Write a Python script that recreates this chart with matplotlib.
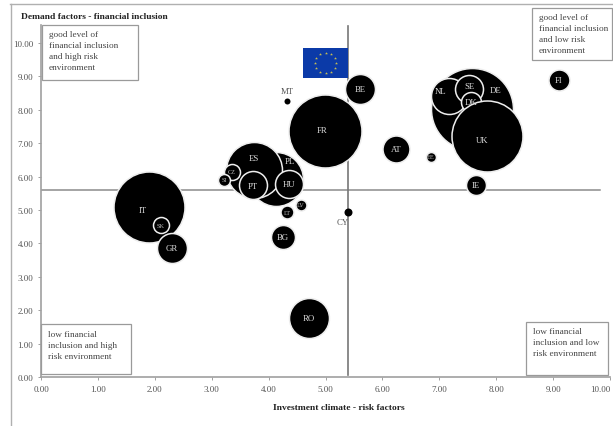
import numpy as np
import matplotlib
matplotlib.use("Agg")
import matplotlib.pyplot as plt
from matplotlib.patches import Rectangle
from matplotlib.lines import Line2D

plt.rcParams['font.family'] = ['Liberation Serif', 'DejaVu Serif']

# drawing order: back to front
countries = ['DE', 'NL', 'SE', 'DK', 'UK', 'IT', 'SK', 'GR', 'PL', 'ES', 'HU', 'PT', 'CZ', 'SI',
             'LT', 'LV', 'BG', 'RO', 'MT', 'CY', 'FR', 'BE', 'AT', 'EE', 'IE', 'FI']
risk = [7.57, 7.17, 7.52, 7.56, 7.83, 1.90, 2.11, 2.30, 4.13, 3.74, 4.36, 3.73, 3.36, 3.22,
        4.32, 4.57, 4.25, 4.71, 4.32, 5.40, 4.99, 5.61, 6.24, 6.85, 7.64, 9.10]
inclusion = [8.02, 8.41, 8.62, 8.23, 7.22, 5.09, 4.55, 3.86, 5.93, 6.20, 5.78, 5.75, 6.14, 5.90,
             4.94, 5.15, 4.19, 1.77, 8.26, 4.94, 7.38, 8.62, 6.83, 6.59, 5.75, 8.89]
bubble = [1681, 324, 196, 100, 1260, 1260, 64, 225, 729, 784, 196, 196, 64, 36,
          42, 30, 144, 400, 9, 16, 1332, 225, 182, 25, 100, 110]
eu_x = 5.40
eu_y = 5.61
ticks = [0, 1, 2, 3, 4, 5, 6, 7, 8, 9, 10]
tick_labels = ['0.00', '1.00', '2.00', '3.00', '4.00', '5.00', '6.00', '7.00', '8.00', '9.00', '10.00']

W, H = 613, 427
fig = plt.figure(figsize=(W / 100, H / 100), dpi=100, facecolor='white')
ax = fig.add_axes([41 / W, (H - 378) / H, 569 / W, 352 / H])
ax.set_xlim(0, 10)
ax.set_ylim(0, 352 / 33.4)
for s in ['top', 'right']:
    ax.spines[s].set_visible(False)
for s in ['left', 'bottom']:
    ax.spines[s].set_color('#a0a0a0')
    ax.spines[s].set_linewidth(1.2)
ax.set_xticks(ticks, tick_labels)
ax.set_yticks(ticks, tick_labels)
ax.tick_params(length=2.5, width=0.7, color='#a0a0a0', labelsize=6.5, labelcolor='#555555', pad=3)
# keep the last x label fully inside the picture
ax.get_xticklabels()[-1].set_horizontalalignment('right')
ax.get_xticklabels()[-1].set_x(10.0)

ax.plot([0, 9.83], [eu_y, eu_y], color='#8c8c8c', lw=1.1, zorder=1)
ax.plot([eu_x, eu_x], [0.05, 10.5], color='#777777', lw=1.2, zorder=1)

# EU flag
ax.add_patch(Rectangle((4.60, 8.95), 0.80, 0.90, facecolor='#0b3aa8', edgecolor='none', zorder=2))
ang = np.arange(12) * np.pi / 6
ax.scatter(5.0 + 0.19 * np.sin(ang), 9.40 + 0.30 * np.cos(ang), marker='*', s=5, color='#c8bf55',
           linewidths=0, zorder=3)

k = (2 * 0.72) ** 2
for i, c in enumerate(countries):
    small = c in ('MT', 'CY')
    ax.scatter(risk[i], inclusion[i], s=bubble[i] * k, facecolor='black',
               edgecolor='black' if small else '#eeeeee',
               linewidths=0 if small else 1.1, zorder=5 + i * 0.01)

offsets = {'DE': (24, 19), 'NL': (-8, 5), 'SE': (1, 3), 'UK': (-4, -4), 'PL': (14, 18), 'ES': (0, 12),
           'IT': (-6, -3), 'FR': (-3, 1), 'MT': (0, 10), 'CY': (-6, -10), 'PT': (0, -1)}
for i, c in enumerate(countries):
    dx, dy = offsets.get(c, (0, 0))
    outside = c in ('MT', 'CY')
    fs = 6.3 if outside else (4.5 if bubble[i] < 70 else 6.3)
    ax.annotate(c, (risk[i], inclusion[i]), xytext=(dx * 0.72, dy * 0.72), textcoords='offset points',
                ha='center', va='center', fontsize=fs,
                color='#555555' if outside else ('#bbbbbb' if bubble[i] < 70 else '#dddddd'), zorder=7)


def px(x, y):
    return x / W, 1 - y / H


# outer frame lines
fig.add_artist(Line2D([10 / W, 1], [1 - 4.5 / H] * 2, color='#b0b0b0', lw=1.0))
fig.add_artist(Line2D([11 / W] * 2, [0, 1 - 4.5 / H], color='#b0b0b0', lw=1.0))

# annotation boxes
boxes = [
    ((42, 26, 138, 81), (49, 35), ['good level of', 'financial inclusion', 'and high risk', 'environment']),
    ((532, 9, 612, 61), (539, 18), ['good level of', 'financial inclusion', 'and low risk', 'environment']),
    ((41, 325, 131, 375), (48, 335), ['low financial', 'inclusion and high', 'risk environment']),
    ((526, 323, 608, 376), (533, 332), ['low financial', 'inclusion and low', 'risk environment']),
]
for (x0, y0, x1, y1), (tx, ty), lines in boxes:
    fig.add_artist(Rectangle(px(x0, y1), (x1 - x0) / W, (y1 - y0) / H, transform=fig.transFigure,
                             facecolor='white', edgecolor='#9a9a9a', lw=0.9, zorder=4))
    for j, line in enumerate(lines):
        xx, yy = px(tx, ty + j * 11)
        fig.text(xx, yy, line, fontsize=6.7, color='#444444', va='center', ha='left', zorder=5)

xx, yy = px(21, 17)
fig.text(xx, yy, 'Demand factors - financial inclusion', fontsize=6.8, fontweight='bold',
         color='#222222', va='center', ha='left')
xx, yy = px(339, 408)
fig.text(xx, yy, 'Investment climate - risk factors', fontsize=6.8, fontweight='bold',
         color='#222222', va='center', ha='center')

fig.savefig('out.png', dpi=100, facecolor='white')
